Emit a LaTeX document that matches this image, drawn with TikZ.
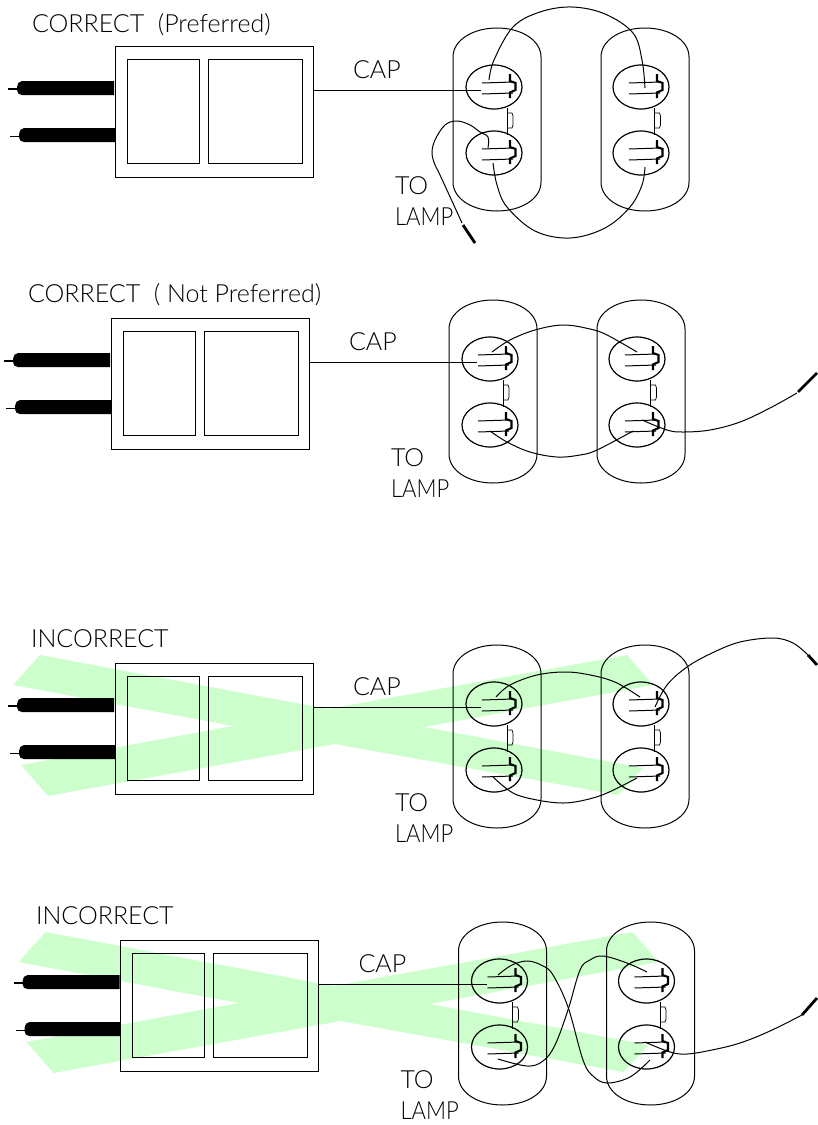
\documentclass[tikz,border=0pt]{standalone}
\usepackage{fontspec}
\setmainfont{Lato}[UprightFont=* Light]
\usetikzlibrary{shapes.geometric}
\definecolor{band}{HTML}{CCFFCC}
\tikzset{
  ln/.style={line width=1pt,black},
  wire/.style={line width=1pt,black},
  tip/.style={line width=2.8pt,black},
  boxo/.style={draw,line width=0.85pt,rectangle,inner sep=0pt,outer sep=0pt},
  sock/.style={draw,line width=1.2pt,ellipse,inner sep=0pt,outer sep=0pt,minimum width=56pt,minimum height=44pt},
  lbl/.style={anchor=base west,inner sep=0pt,outer sep=0pt,font=\fontsize{25}{27}\selectfont},
}
\newcommand{\pin}[3]{% name, x, y
  \node[sock] (#1) at (#2,#3) {};
  \begin{scope}[shift={(#2,#3)}]
    \draw[ln] (-12,-4) -- (19,-5);
    \draw[ln] (-12,7) -- (19,6);
    \draw[line width=2.1pt] (16,-13) -- (16,-6) -- (21.5,-4) -- (21.5,3) -- (16,5.5) -- (16,11);
  \end{scope}
}
\newcommand{\capsule}[1]{% left x
  \draw[ln] (#1,57) .. controls (#1,40) and (#1+20,28) .. (#1+44,28)
    .. controls (#1+68,28) and (#1+88,40) .. (#1+88,57)
    -- (#1+88,182) .. controls (#1+88,199) and (#1+68,211) .. (#1+44,211)
    .. controls (#1+20,211) and (#1,199) .. (#1,182) -- cycle;
}
\newcommand{\tabpiece}[1]{% x of contact line
  \draw[wire] (#1,108) -- (#1,135);
  \draw[line width=0.7pt] (#1,113) -- (#1+5,113) -- (#1+6,116) -- (#1+6,125) -- (#1+5,128) -- (#1,128);
}
\newcommand{\unit}[3]{% id, dx, dy
  \begin{scope}[shift={(#2,#3)}]
    \node[boxo,minimum width=198pt,minimum height=131pt] (#1box) at (214,111.5) {};
    \node[boxo,minimum width=72pt,minimum height=104pt] (#1pa) at (163,111) {};
    \node[boxo,minimum width=94pt,minimum height=104pt] (#1pb) at (255,111) {};
    \fill (114,81) -- (22,81) .. controls (19,81) and (17,84) .. (17,87) -- (17,90) .. controls (17,93) and (19,95) .. (22,95) -- (114,95) -- cycle;
    \fill (115,128) -- (24,128) .. controls (21,128) and (19,131) .. (19,134) -- (19,137) .. controls (19,140) and (21,142) .. (24,142) -- (115,142) -- cycle;
    \draw[line width=1.1pt] (8,89) -- (18,89);
    \draw[line width=0.8pt] (10,136) -- (20,136);
    \capsule{453}
    \capsule{601}
    \pin{#1a}{494}{87}
    \pin{#1b}{494}{153}
    \pin{#1c}{641}{87}
    \pin{#1d}{641}{153}
    \tabpiece{507}
    \tabpiece{654.5}
    \coordinate (#1capend) at (481,90);
    \draw[wire] (#1box.east |- #1capend) -- (#1capend);
    \node[lbl] (#1cap) at (353,78) {CAP};
    \node[lbl] (#1to) at (395,194) {TO};
    \node[lbl,xscale=0.88] (#1lamp) at (395,225) {LAMP};
  \end{scope}
}
\begin{document}
\begin{tikzpicture}[x=1pt,y=-1pt]
\useasboundingbox (0,0) rectangle (817,1125);
\fill[white] (0,0) rectangle (817,1125);
% green crosses
\fill[band] (40,655) -- (328,709) -- (627,655) -- (653,685) -- (424,727) -- (643,768) -- (618,795) -- (335,744) -- (48,796) -- (21,765) -- (233,726) -- (13,685) -- cycle;
\begin{scope}[shift={(5.5,277)}]
\fill[band] (40,655) -- (328,709) -- (627,655) -- (653,685) -- (424,727) -- (643,768) -- (618,795) -- (335,744) -- (48,796) -- (21,765) -- (233,726) -- (13,685) -- cycle;
\end{scope}
\unit{u}{0}{0}
\unit{v}{-4}{272}
\unit{w}{0}{617}
\unit{z}{5.5}{894}
% titles
\node[lbl] (t1) at (32,32) {CORRECT\ \ (Preferred)};
\node[lbl] (t2) at (28,302) {CORRECT\ \ ( Not Preferred)};
\node[lbl] (t3) at (31,647) {INCORRECT};
\node[lbl] (t4) at (36,924) {INCORRECT};
% diagram 1 wires
\draw[wire] plot[smooth,tension=0.6] coordinates {(489,80) (494,60) (513,27) (540,12) (572,7) (605,14) (633,33) (642,60) (645,88)};
\draw[wire] plot[smooth,tension=0.6] coordinates {(493,163) (497,185) (507,207) (535,231) (570,238) (605,228) (630,207) (642,185) (645,167)};
\draw[wire] plot[smooth,tension=0.6] coordinates {(488,148) (488,137) (480,132) (470,125) (457,121) (445,125) (435,140) (432,153) (435,165) (440,175) (462,223)};
\coordinate (uend) at (475,243);
\draw[tip] (463,225) -- (uend);
% diagram 2 wires
\draw[wire] plot[smooth,tension=0.6] coordinates {(492,352) (510,340) (535,330) (563,325) (590,329) (607,335) (637,352)};
\draw[wire] plot[smooth,tension=0.6] coordinates {(490,431) (507,442) (530,452) (557,457) (580,455) (597,450) (633,431)};
\draw[wire] plot[smooth,tension=0.6] coordinates {(642,420) (667,430) (683,432) (710,430) (740,422) (770,408) (797,393)};
\coordinate (vend) at (817,373);
\draw[tip] (798,392) -- (vend);
% diagram 3 wires
\draw[wire] plot[smooth,tension=0.6] coordinates {(496,697) (510,685) (537,675) (567,672) (595,676) (617,683) (640,697)};
\draw[wire] plot[smooth,tension=0.6] coordinates {(493,777) (513,793) (537,800) (563,803) (585,800) (607,793) (637,778)};
\draw[wire] plot[smooth,tension=0.6] coordinates {(655,707) (667,685) (687,667) (712,653) (740,642) (773,638) (793,643) (808,655)};
\coordinate (wend) at (817,665);
\draw[tip] (808,655) -- (wend);
% diagram 4 wires
\draw[wire] plot[smooth,tension=0.6] coordinates {(498,975) (512,965) (528,961) (543,966) (553,975) (568,1007) (583,1060) (593,1076) (607,1083) (630,1077) (650,1060)};
\draw[wire] plot[smooth,tension=0.6] coordinates {(498,1059) (527,1066) (543,1061) (555,1045) (568,1010) (580,970) (590,960) (603,956) (627,963) (647,972)};
\draw[wire] plot[smooth,tension=0.6] coordinates {(645,1042) (670,1052) (687,1054) (712,1050) (740,1043) (770,1031) (802,1015)};
\coordinate (zend) at (817,998);
\draw[tip] (802,1015) -- (zend);
\end{tikzpicture}
\end{document}
